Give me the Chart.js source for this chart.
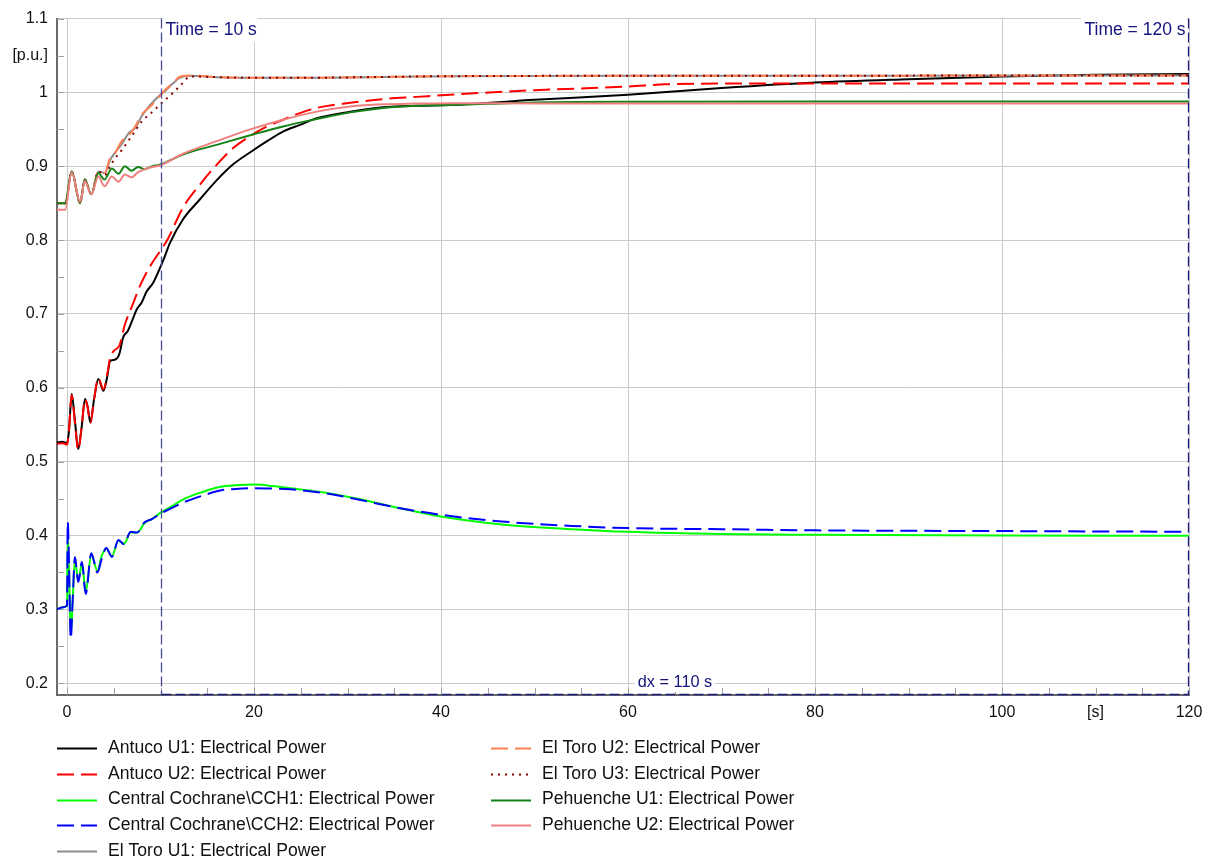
<!DOCTYPE html>
<html>
<head>
<meta charset="utf-8">
<title>Electrical Power</title>
<style>
  * { margin: 0; padding: 0; box-sizing: border-box; }
  body { background: #fff; }
  #c { display: block; }
</style>
</head>
<body>
<canvas id="c" width="1215" height="862"></canvas>
<script src="https://cdn.jsdelivr.net/npm/chart.js"></script>
<script>
// time stamps [s] and values [p.u.]
const antucoU1T = [-1.07, -0.5, 0, 0.2, 0.5, 0.85, 1.2, 1.55, 1.93, 2.2, 2.5, 2.9, 3.35, 3.9, 4.3, 4.6, 5.1, 5.6, 6.0, 6.5, 7.0, 7.45, 8.0, 8.5, 9.2, 9.8, 10.4, 11, 12.4, 14.2, 16, 17.8, 19.6, 21.4, 23.1, 24.9, 26.7, 30.3, 33.8, 37.4, 41, 50, 60, 70, 80, 90, 100, 110, 120];
const antucoU1 = [0.526, 0.527, 0.525, 0.54, 0.5915, 0.555, 0.517, 0.545, 0.585, 0.575, 0.553, 0.585, 0.612, 0.596, 0.615, 0.636, 0.638, 0.646, 0.668, 0.677, 0.692, 0.706, 0.716, 0.73, 0.742, 0.758, 0.776, 0.796, 0.828, 0.855, 0.881, 0.903, 0.919, 0.934, 0.947, 0.956, 0.965, 0.974, 0.980, 0.982, 0.983, 0.99, 0.997, 1.006, 1.0135, 1.018, 1.0216, 1.024, 1.025];

const antucoU2T = [-1.07, -0.5, 0, 0.2, 0.5, 0.85, 1.2, 1.55, 1.93, 2.2, 2.5, 2.9, 3.35, 3.9, 4.3, 4.6, 5.0, 5.6, 6.2, 7.0, 7.8, 8.9, 9.95, 10.8, 12.4, 14.2, 16, 17.8, 19.6, 21.4, 23.1, 24.9, 26.7, 30.3, 33.8, 37.4, 41, 50, 60, 64, 70, 80, 100, 120];
const antucoU2 = [0.524, 0.525, 0.523, 0.54, 0.59, 0.552, 0.516, 0.545, 0.585, 0.574, 0.552, 0.585, 0.613, 0.598, 0.618, 0.64, 0.65, 0.657, 0.686, 0.712, 0.738, 0.765, 0.785, 0.802, 0.844, 0.875, 0.902, 0.925, 0.941, 0.954, 0.963, 0.972, 0.979, 0.986, 0.991, 0.994, 0.997, 1.003, 1.008, 1.011, 1.012, 1.012, 1.012, 1.012];

const cochraneT = [-1.07, -0.4, 0, 0.08, 0.2, 0.4, 0.6, 0.85, 1.2, 1.6, 2.0, 2.6, 3.25, 3.7, 4.2, 4.8, 5.5, 6.1, 6.8, 7.5, 8.3, 9.05, 9.9, 11, 12.7, 14.5, 16.4, 18, 20, 22, 23.9, 27.7, 31.4, 35.2, 40, 46.5, 54, 60, 70, 80, 100, 120];
const cochraneCCH1 = [0.300, 0.303, 0.305, 0.40, 0.36, 0.265, 0.31, 0.368, 0.338, 0.362, 0.324, 0.374, 0.352, 0.372, 0.382, 0.372, 0.393, 0.389, 0.404, 0.404, 0.417, 0.422, 0.430, 0.438, 0.4505, 0.459, 0.466, 0.468, 0.469, 0.467, 0.464, 0.458, 0.449, 0.438, 0.4257, 0.415, 0.4086, 0.405, 0.402, 0.401, 0.400, 0.3995];
const cochraneCCH2 = [0.300, 0.303, 0.305, 0.419, 0.37, 0.260, 0.31, 0.371, 0.337, 0.364, 0.321, 0.376, 0.350, 0.368, 0.383, 0.371, 0.394, 0.388, 0.405, 0.404, 0.418, 0.422, 0.429, 0.436, 0.446, 0.454, 0.461, 0.463, 0.464, 0.4635, 0.4626, 0.457, 0.448, 0.438, 0.428, 0.419, 0.413, 0.410, 0.4085, 0.407, 0.406, 0.405];

const elToroT = [-1.07, -0.2, 0.5, 1.4, 1.9, 2.6, 3.35, 4.05, 4.6, 5.1, 5.85, 6.6, 7.3, 8.0, 8.9, 9.9, 10.5, 11.3, 12.1, 13.2, 16, 19.6, 26.7, 33.8, 41, 60, 80, 100, 120];
const elToroU1 = [0.850, 0.850, 0.893, 0.850, 0.882, 0.862, 0.893, 0.891, 0.908, 0.918, 0.930, 0.945, 0.952, 0.968, 0.983, 0.996, 1.002, 1.012, 1.020, 1.0225, 1.0207, 1.020, 1.020, 1.021, 1.022, 1.0225, 1.0225, 1.023, 1.023];
const elToroU2 = [0.850, 0.850, 0.893, 0.850, 0.882, 0.862, 0.893, 0.891, 0.911, 0.917, 0.934, 0.942, 0.954, 0.970, 0.981, 0.9946, 1.0036, 1.012, 1.0216, 1.023, 1.0207, 1.020, 1.020, 1.021, 1.022, 1.0225, 1.0225, 1.023, 1.023];
const elToroU3 = [0.850, 0.850, 0.893, 0.850, 0.882, 0.862, 0.893, 0.888, 0.900, 0.910, 0.922, 0.935, 0.948, 0.961, 0.971, 0.983, 0.990, 0.999, 1.009, 1.0216, 1.0207, 1.020, 1.020, 1.021, 1.022, 1.0225, 1.0225, 1.023, 1.023];

const pehuencheT = [-1.07, -0.2, 0.5, 1.4, 1.9, 2.6, 3.35, 4.0, 4.8, 5.5, 6.2, 6.9, 7.6, 8.3, 9.1, 9.9, 12.4, 16, 19.6, 23.1, 26.7, 30.3, 33.8, 37.4, 41, 50, 60, 80, 100, 120];
const pehuencheU1 = [0.850, 0.850, 0.893, 0.850, 0.882, 0.862, 0.891, 0.882, 0.897, 0.890, 0.900, 0.894, 0.899, 0.896, 0.900, 0.902, 0.916, 0.929, 0.942, 0.954, 0.964, 0.973, 0.979, 0.982, 0.983, 0.9865, 0.9875, 0.9878, 0.9878, 0.9878];
const pehuencheU2 = [0.841, 0.841, 0.892, 0.852, 0.880, 0.862, 0.886, 0.873, 0.886, 0.879, 0.889, 0.885, 0.892, 0.896, 0.899, 0.901, 0.917, 0.934, 0.950, 0.963, 0.974, 0.981, 0.984, 0.985, 0.9855, 0.985, 0.985, 0.985, 0.985, 0.985];

const seriesNames = [
  'Antuco U1: Electrical Power',
  'Antuco U2: Electrical Power',
  'Central Cochrane\\CCH1: Electrical Power',
  'Central Cochrane\\CCH2: Electrical Power',
  'El Toro U1: Electrical Power',
  'El Toro U2: Electrical Power',
  'El Toro U3: Electrical Power',
  'Pehuenche U1: Electrical Power',
  'Pehuenche U2: Electrical Power'
];

const xTickValues = [0, 5, 10, 15, 20, 25, 30, 35, 40, 45, 50, 55, 60, 65, 70, 75, 80, 85, 90, 95, 100, 105, 110, 115, 120];
const yTickValues = [0.2, 0.25, 0.3, 0.35, 0.4, 0.45, 0.5, 0.55, 0.6, 0.65, 0.7, 0.75, 0.8, 0.85, 0.9, 0.95, 1.0, 1.05, 1.1];

// cursors
const cursorA = 10, cursorB = 120;

const FONT = "'Liberation Sans', Arial, sans-serif";

function pts(t, v) { return t.map((x, i) => ({ x: x, y: v[i] })); }

const styles = [
  { color: '#000000', dash: [] },
  { color: '#ff0000', dash: [17, 7] },
  { color: '#00ff00', dash: [] },
  { color: '#0000ff', dash: [17, 7] },
  { color: '#8c8c8c', dash: [] },
  { color: '#ff8050', dash: [17, 7] },
  { color: '#8b0000', dash: [2, 5] },
  { color: '#148214', dash: [] },
  { color: '#f08080', dash: [] }
];
const seriesData = [
  pts(antucoU1T, antucoU1), pts(antucoU2T, antucoU2),
  pts(cochraneT, cochraneCCH1), pts(cochraneT, cochraneCCH2),
  pts(elToroT, elToroU1), pts(elToroT, elToroU2), pts(elToroT, elToroU3),
  pts(pehuencheT, pehuencheU1), pts(pehuencheT, pehuencheU2)
];

const datasets = seriesNames.map((name, i) => ({
  label: name,
  data: seriesData[i],
  borderColor: styles[i].color,
  borderDash: styles[i].dash,
  borderWidth: 2,
  pointRadius: 0,
  fill: false,
  cubicInterpolationMode: 'monotone',
  order: -i
}));

const isMul = (v, step) => Math.abs(v / step - Math.round(v / step)) < 1e-6;

// minor ticks inside the plot, cursors and the legend
const decorations = {
  id: 'decorations',
  beforeDatasetsDraw(chart) {
    const c = chart.ctx, a = chart.chartArea, xs = chart.scales.x, ys = chart.scales.y;
    c.save();
    c.strokeStyle = '#a0a0a0';
    c.lineWidth = 1;
    c.beginPath();
    yTickValues.forEach(v => {
      const py = Math.round(ys.getPixelForValue(v)) + 0.5;
      c.moveTo(a.left, py); c.lineTo(a.left + 7, py);
    });
    xTickValues.forEach(v => {
      const px = Math.round(xs.getPixelForValue(v)) + 0.5;
      c.moveTo(px, a.bottom); c.lineTo(px, a.bottom - 7);
    });
    c.stroke();
    c.restore();
  },
  afterDatasetsDraw(chart) {
    const c = chart.ctx, a = chart.chartArea, xs = chart.scales.x;
    const xa = Math.round(xs.getPixelForValue(cursorA)) + 0.5;
    const xb = Math.round(xs.getPixelForValue(cursorB)) - 0.5;
    c.save();
    c.lineWidth = 1.3;
    c.setLineDash([10, 4]);
    c.strokeStyle = '#4b4b9b';
    c.beginPath(); c.moveTo(xa, a.top); c.lineTo(xa, a.bottom); c.stroke();
    c.strokeStyle = '#1c1c80';
    c.beginPath(); c.moveTo(xb, a.top); c.lineTo(xb, a.bottom); c.stroke();
    c.beginPath(); c.moveTo(xa, a.bottom - 0.5); c.lineTo(xb, a.bottom - 0.5); c.stroke();
    c.setLineDash([]);

    c.font = '17.5px ' + FONT;
    c.textBaseline = 'middle';
    // Time = 10 s
    let s = 'Time = ' + cursorA + ' s';
    let w = c.measureText(s).width;
    c.fillStyle = '#ffffff';
    c.fillRect(xa + 1.5, a.top - 1, w + 3, 24);
    c.fillStyle = '#14147a';
    c.textAlign = 'left';
    c.fillText(s, xa + 4, a.top + 12);
    // Time = 120 s
    s = 'Time = ' + cursorB + ' s';
    w = c.measureText(s).width;
    c.fillStyle = '#ffffff';
    c.fillRect(xb - w - 7, a.top - 1, w + 6, 24);
    c.fillStyle = '#14147a';
    c.textAlign = 'right';
    c.fillText(s, xb - 3, a.top + 12);
    // dx
    const xm = (xa + xb) / 2;
    s = 'dx = ' + (cursorB - cursorA) + ' s';
    c.font = '16.3px ' + FONT;
    w = c.measureText(s).width;
    c.fillStyle = '#ffffff';
    c.fillRect(xm - w / 2 - 3, a.bottom - 22, w + 6, 19);
    c.fillStyle = '#14147a';
    c.textAlign = 'center';
    c.fillText(s, xm, a.bottom - 12);
    c.restore();
  },
  afterDraw(chart) {
    const c = chart.ctx;
    const colX = [57, 491];
    c.save();
    c.font = '17.6px ' + FONT;
    c.textBaseline = 'middle';
    c.textAlign = 'left';
    chart.data.datasets.forEach((ds, i) => {
      const col = i < 5 ? 0 : 1;
      const row = i < 5 ? i : i - 5;
      const x0 = colX[col];
      const y = 748 + row * 25.8;
      c.strokeStyle = ds.borderColor;
      c.lineWidth = 2;
      c.setLineDash(ds.borderDash);
      c.beginPath(); c.moveTo(x0, Math.round(y) + 0.5); c.lineTo(x0 + 40, Math.round(y) + 0.5); c.stroke();
      c.setLineDash([]);
      c.fillStyle = '#111111';
      c.fillText(ds.label, x0 + 51, y);
    });
    c.restore();
  }
};

new Chart(document.getElementById('c'), {
  type: 'line',
  data: { datasets: datasets },
  options: {
    responsive: false,
    animation: false,
    events: [],
    layout: { padding: { top: 17, right: 26, bottom: 137, left: 0 } },
    plugins: { legend: { display: false }, tooltip: { enabled: false } },
    scales: {
      x: {
        type: 'linear',
        min: -1.07,
        max: 120,
        afterBuildTicks: s => { s.ticks = xTickValues.map(v => ({ value: v })); },
        afterFit: s => { s.height = 30; },
        ticks: {
          autoSkip: false,
          maxRotation: 0,
          padding: 8,
          color: '#111111',
          font: { family: FONT, size: 16 },
          callback: v => v === 110 ? '[s]' : (isMul(v, 20) ? String(v) : '')
        },
        grid: {
          drawTicks: false,
          lineWidth: 1,
          color: ctx => (ctx.tick && isMul(ctx.tick.value, 20)) ? '#cbcbcb' : 'rgba(0,0,0,0)'
        },
        border: { color: '#6a6a6a', width: 2 }
      },
      y: {
        min: 0.184,
        max: 1.1,
        afterBuildTicks: s => { s.ticks = yTickValues.map(v => ({ value: v })); },
        afterFit: s => { s.width = 57; },
        ticks: {
          autoSkip: false,
          padding: 9,
          color: '#111111',
          font: { family: FONT, size: 16 },
          callback: v => Math.abs(v - 1.05) < 1e-6 ? '[p.u.]' : (isMul(v, 0.1) ? String(Math.round(v * 10) / 10) : '')
        },
        grid: {
          drawTicks: false,
          lineWidth: 1,
          color: ctx => (ctx.tick && isMul(ctx.tick.value, 0.1)) ? '#cbcbcb' : 'rgba(0,0,0,0)'
        },
        border: { color: '#6a6a6a', width: 2 }
      }
    }
  },
  plugins: [decorations]
});
</script>
</body>
</html>
